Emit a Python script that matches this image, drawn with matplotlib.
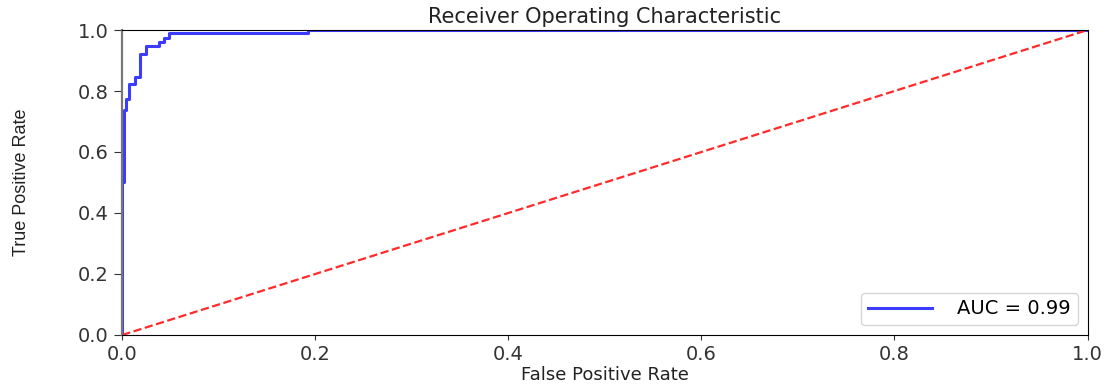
import matplotlib
matplotlib.use('Agg')
import matplotlib.pyplot as plt

# ROC curve points (false positive rate, true positive rate)
fpr = [0.0, 0.0, 0.0015, 0.0015, 0.004, 0.004, 0.0073, 0.0073, 0.0135, 0.0135, 0.018, 0.018,
       0.0245, 0.0245, 0.031, 0.0378, 0.0378, 0.0435, 0.0435, 0.0487, 0.0487,
       0.192, 0.192, 1.0]
tpr = [0.0, 0.5, 0.5, 0.738, 0.738, 0.773, 0.773, 0.823, 0.823, 0.845, 0.845, 0.921,
       0.921, 0.947, 0.947, 0.947, 0.96, 0.96, 0.973, 0.973, 0.989,
       0.989, 1.0, 1.0]
roc_auc = 0.99

fig = plt.figure(figsize=(11.12, 3.85), dpi=100)
ax = fig.add_axes([0.110, 0.130, 0.868, 0.792])

ax.plot(fpr, tpr, color='#3c3cff', linewidth=2.2, label='AUC = %0.2f' % roc_auc)
ax.plot([0, 1], [0, 1], '--', color='#ff2a2a', linewidth=1.6)
ax.legend(loc='lower right', fontsize=14, handlelength=3.3, handletextpad=1.3,
          borderpad=0.35)
ax.set_xlim(0, 1)
ax.set_ylim(0, 1)
ax.set_title('Receiver Operating Characteristic', fontsize=15, pad=5, color='#222222')
ax.set_xlabel('False Positive Rate', fontsize=13, labelpad=2, color='#222222')
ax.set_ylabel('True Positive Rate', fontsize=13, labelpad=34, color='#222222',
              family=['Liberation Sans Narrow', 'Liberation Sans', 'DejaVu Sans'])
ax.tick_params(labelsize=14, colors='#333333')
ax.tick_params(axis='y', length=6, pad=4)
ax.spines['left'].set_color('#777777')
ax.spines['left'].set_linewidth(1.6)

fig.savefig('out.png')
